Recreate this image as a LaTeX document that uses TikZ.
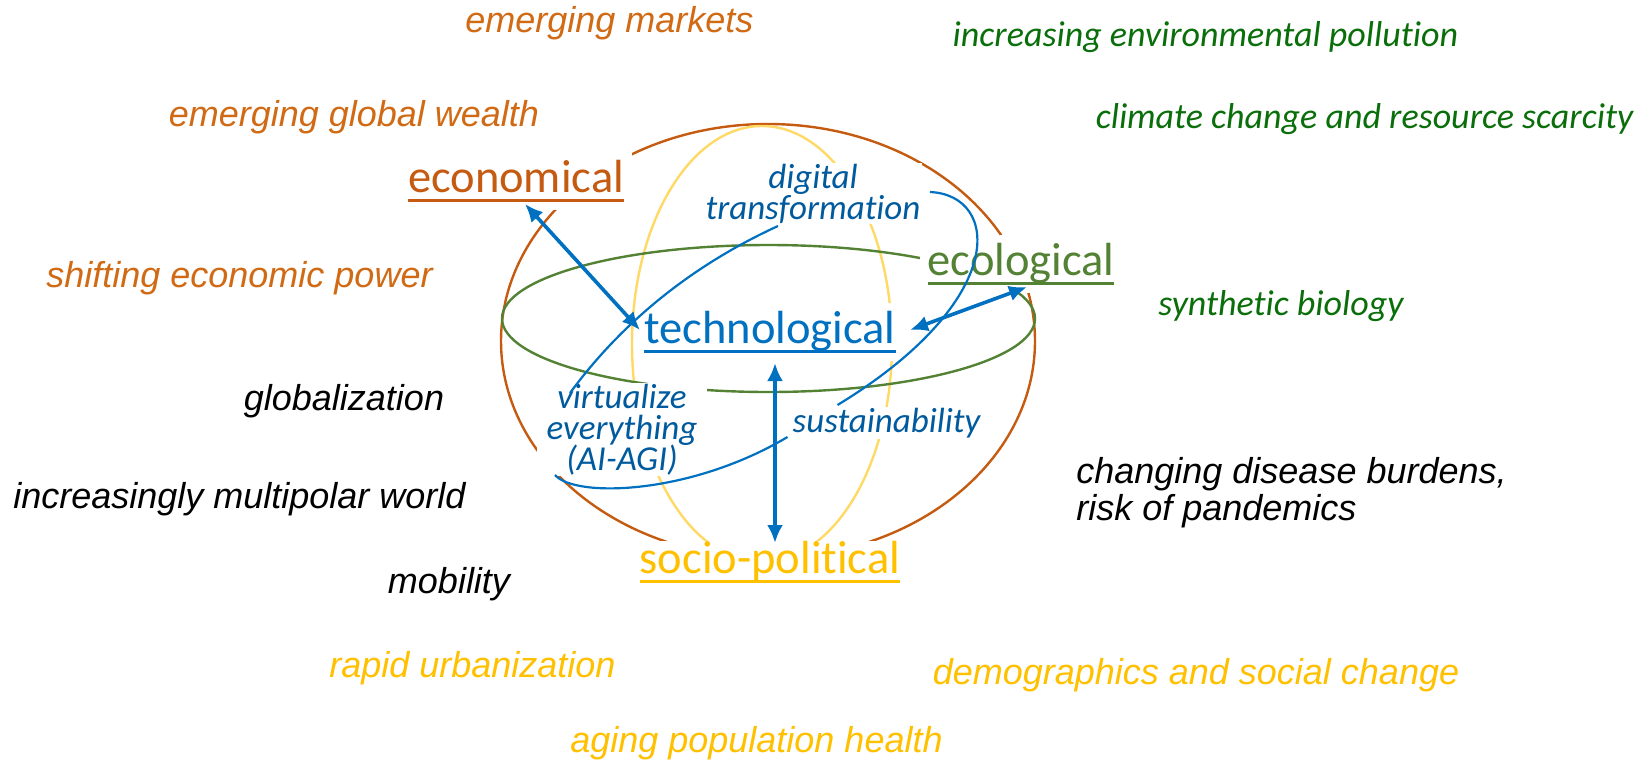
\documentclass[tikz,border=0pt]{standalone}
\usepackage{fontspec}
\setmainfont{Carlito}[Ligatures=NoCommon]
\newfontfamily\arialfont{Liberation Sans}
\newsavebox\ulbox
\newcommand\ulword[1]{\sbox\ulbox{#1}\rlap{\raisebox{-4.8pt}{\rule{\wd\ulbox}{1.5pt}}}\usebox\ulbox}
\newcommand\tightlines{\lineskiplimit-20pt\relax}
\usetikzlibrary{arrows.meta}
\definecolor{econcol}{HTML}{C55A11}
\definecolor{ecocol}{HTML}{548235}
\definecolor{techcol}{HTML}{0070C0}
\definecolor{sociocol}{HTML}{FFC000}
\definecolor{ringyellow}{HTML}{FFD966}
\definecolor{topicblue}{HTML}{005A9E}
\definecolor{trendorange}{HTML}{D06A15}
\definecolor{trendgreen}{HTML}{0A6E0A}
\begin{document}
\begin{tikzpicture}[x=0.5pt,y=-0.5pt,
    ring/.style={line width=1.2pt},
    pillar/.style={font=\fontsize{23.25}{27}\selectfont, fill=white, inner sep=4pt, anchor=base},
    topic/.style={font=\fontsize{17.5}{15.5}\selectfont\itshape\tightlines, text=topicblue,
      fill=white, inner xsep=5pt, inner ysep=0.5pt, align=center, anchor=base},
    trend/.style={font=\arialfont\itshape\fontsize{18}{18.5}\selectfont, inner sep=0pt, anchor=base},
    ectrend/.style={font=\itshape\fontsize{18}{18.5}\selectfont, text=trendgreen, inner sep=0pt, anchor=base},
    link/.style={draw=techcol, line width=1.1pt},
    pull/.style={draw=techcol, line width=1.8pt, {Latex[length=9pt,width=8pt]}-{Latex[length=9pt,width=8pt]}}]
  \useasboundingbox (0,0) rectangle (1650,761);
  % the three rings
  \draw[ring, econcol] (768,341) ellipse [x radius=267, y radius=217];
  \draw[ring, ringyellow] (762,344) ellipse [x radius=130, y radius=218];
  \draw[ring, ecocol] (768.5,318.5) ellipse [x radius=266.5, y radius=73.5];
  % pillars
  \node[pillar, text=econcol] (econ) at (516,192) {\ulword{economical}};
  \node[pillar, text=ecocol] (eco) at (1021,275) {\ulword{ecological}};
  \node[pillar, text=techcol] (tech) at (770,343) {\ulword{technological}};
  \node[pillar, text=sociocol, inner ysep=0pt] (socio) at (770,573) {\ulword{socio-political}};
  % topics (base = last line)
  \node[topic, inner xsep=1pt] (dig) at (813,219) {digital\\transformation};
  \node[topic] (virt) at (622,470) {virtualize\\everything\\(AI-AGI)};
  \node[topic] (sust) at (886.5,432) {sustainability};
  % trends
  \foreach \id/\x/\y/\txt in {markets/609.5/32/emerging markets,
      wealth/354/126/emerging global wealth,
      shifting/239.5/287/shifting economic power}
    \node[trend, text=trendorange] (\id) at (\x,\y) {\txt};
  \foreach \id/\x/\y/\txt in {pollution/1205.5/46/increasing environmental pollution,
      climate/1364.5/128/climate change and resource scarcity,
      synbio/1281/315/synthetic biology}
    \node[ectrend] (\id) at (\x,\y) {\txt};
  \foreach \id/\x/\y/\txt in {global/344/410/globalization,
      multipolar/239.5/508/increasingly multipolar world,
      mobility/449/593/mobility}
    \node[trend] (\id) at (\x,\y) {\txt};
  \node[trend, anchor=base west, align=left] (disease) at (1076,520) {changing disease burdens,\\risk of pandemics};
  \foreach \id/\x/\y/\txt in {urban/472.5/677/rapid urbanization,
      demo/1196/684/demographics and social change,
      aging/756.5/752/aging population health}
    \node[trend, text=sociocol] (\id) at (\x,\y) {\txt};
  % links between topics
  \draw[link] ([shift={(-35,7)}]dig.base) .. controls (693,265) and (623,321) .. ([shift={(-52,-77)}]virt.base);
  \draw[link] ([shift={(117,-27)}]dig.base) .. controls (1000,195) and (1010,300) .. ([shift={(-49,-27)}]sust.base);
  \draw[link] ([shift={(-67,5)}]virt.base) .. controls (575,498) and (690,495) .. ([shift={(-99,5)}]sust.base);
  % pulls
  \draw[pull] ([shift={(4,-13)}]tech.base west) -- ([shift={(9,12)}]econ.base);
  \draw[pull] ([shift={(6,-13)}]tech.base east) -- ([shift={(6,12)}]eco.base);
  \draw[pull] ([shift={(5,20)}]tech.base) -- ([shift={(5,-30)}]socio.base);
\end{tikzpicture}
\end{document}
